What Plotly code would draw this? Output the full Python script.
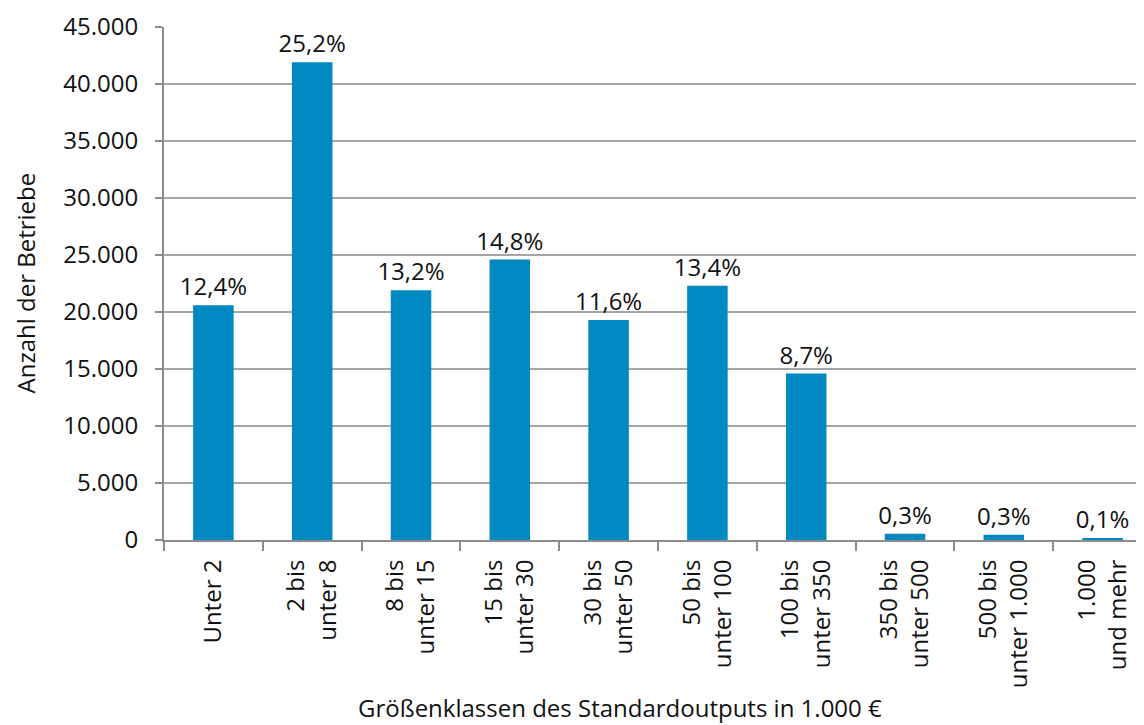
import plotly.graph_objects as go

# Größenklassen (x axis) and values
categories = [
    "Unter 2", "2 bis<br>unter 8", "8 bis<br>unter 15", "15 bis<br>unter 30",
    "30 bis<br>unter 50", "50 bis<br>unter 100", "100 bis<br>unter 350",
    "350 bis<br>unter 500", "500 bis<br>unter 1.000", "1.000<br>und mehr",
]
betriebe = [20600, 41900, 21900, 24600, 19300, 22300, 14600, 550, 450, 100]
anteile = ["12,4%", "25,2%", "13,2%", "14,8%", "11,6%", "13,4%", "8,7%", "0,3%", "0,3%", "0,1%"]

y_ticks = [0, 5000, 10000, 15000, 20000, 25000, 30000, 35000, 40000, 45000]
y_labels = ["0", "5.000", "10.000", "15.000", "20.000", "25.000", "30.000", "35.000", "40.000", "45.000"]

font_family = "Open Sans"
text_color = "#111111"
bar_color = "#0088C0"
grid_color = "#A6A6A6"
axis_color = "#8c8c8c"

fig = go.Figure()

fig.add_trace(go.Bar(
    x=categories,
    y=betriebe,
    marker=dict(color=bar_color, line=dict(width=0)),
    text=anteile,
    textposition="outside",
    constraintext="none",
    textfont=dict(family=font_family, size=24, color=text_color),
    cliponaxis=False,
    width=0.41,
    showlegend=False,
))

# page body adds 8px, margins are set to compensate
fig.update_layout(
    width=1144,
    height=725,
    margin=dict(l=156, r=0, t=19, b=193),
    paper_bgcolor="white",
    plot_bgcolor="white",
    font=dict(family=font_family, size=24, color=text_color),
    annotations=[
        dict(text="Größenklassen des Standardoutputs in 1.000 €",
             xref="paper", yref="paper", x=0.4615, y=0,
             xanchor="center", yanchor="middle", yshift=-167,
             showarrow=False, font=dict(family=font_family, size=24, color=text_color)),
        dict(text="Anzahl der Betriebe",
             xref="paper", yref="paper", x=0, y=0.5,
             xanchor="center", yanchor="middle", xshift=-139, textangle=-90,
             showarrow=False, font=dict(family=font_family, size=24, color=text_color)),
    ],
)

fig.update_xaxes(
    tickangle=-90,
    tickson="boundaries",
    ticks="outside",
    ticklen=9,
    tickwidth=2,
    tickcolor=axis_color,
    showline=True,
    linecolor=axis_color,
    linewidth=2,
    showgrid=False,
    ticklabelstandoff=8,
    tickfont=dict(family=font_family, size=24, color=text_color),
)

fig.update_yaxes(
    range=[0, 45000],
    tickmode="array",
    tickvals=y_ticks,
    ticktext=y_labels,
    ticks="outside",
    ticklen=7,
    tickwidth=2,
    tickcolor=axis_color,
    showline=True,
    linecolor=axis_color,
    linewidth=2,
    showgrid=True,
    gridcolor=grid_color,
    gridwidth=1.5,
    zeroline=False,
    ticklabelstandoff=12,
    tickfont=dict(family=font_family, size=24, color=text_color),
)

fig.write_html("out.html")
